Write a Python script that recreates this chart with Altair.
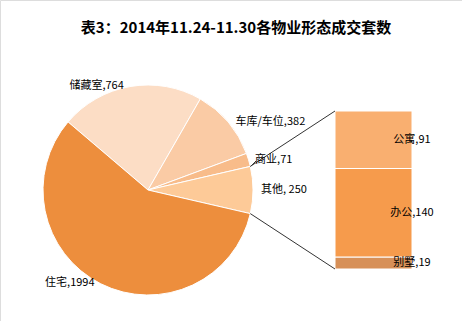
import math
import altair as alt
import pandas as pd

# ---- data ----
pie_cats = ["储藏室", "车库/车位", "商业", "其他", "住宅"]
pie_vals = [764, 382, 71, 250, 1994]
pie_labels = ["储藏室,764", "车库/车位,382", "商业,71", "其他, 250", "住宅,1994"]
pie_colors = ["#FCDDC5", "#FACBA5", "#F8BC8A", "#FDCA98", "#ED8E3D"]

bar_cats = ["别墅", "办公", "公寓"]
bar_vals = [19, 140, 91]
bar_labels = ["别墅,19", "办公,140", "公寓,91"]
bar_colors = ["#D79058", "#F69B4C", "#F9AF70"]

title = "表3：2014年11.24-11.30各物业形态成交套数"

# ---- layout / style ----
W, H = 462, 321
CX, CY, R = 148, 190, 105
LR = 125
label_dx = [-30, 27, 6, 11, -22]
label_dy = [19, 13, 6, 0, -19]
BX0, BX1, BTOP, BBOT = 335, 412, 111, 269
FONT = "Noto Sans CJK SC"

total = sum(pie_vals)
other_i = pie_cats.index("其他")
before_other = sum(pie_vals[:other_i])
start = math.pi / 2 - (before_other + pie_vals[other_i] / 2) / total * 2 * math.pi
a_top = start + before_other / total * 2 * math.pi
a_bot = start + (before_other + pie_vals[other_i]) / total * 2 * math.pi
i_sy = pie_cats.index("商业")
a_sy = start + (sum(pie_vals[:i_sy]) + pie_vals[i_sy] / 2) / total * 2 * math.pi

pie_df = pd.DataFrame({
    "cat": pie_cats, "value": pie_vals, "label": pie_labels,
    "ord": list(range(len(pie_cats))), "ndx": label_dx, "ndy": label_dy,
})
bar_df = pd.DataFrame({
    "bcat": bar_cats, "bvalue": bar_vals, "blabel": bar_labels,
    "bord": list(range(len(bar_cats))),
})
# connector lines (derived from the pie geometry and bar box)
conn_df = pd.DataFrame({
    "x1": [CX + R * math.sin(a_top), CX + R * math.sin(a_bot), CX + (R - 2) * math.sin(a_sy) + 4],
    "y1": [CY - R * math.cos(a_top), CY - R * math.cos(a_bot), CY - (R - 2) * math.cos(a_sy) + 6],
    "x2": [BX0, BX0, 256],
    "y2": [BTOP, BBOT, 161],
})

pie_color = alt.Color("cat:N", scale=alt.Scale(domain=pie_cats, range=pie_colors), legend=None)

pie = alt.Chart(pie_df).mark_arc(outerRadius=R, stroke="white", strokeWidth=1).encode(
    theta=alt.Theta("value:Q", stack=True,
                    scale=alt.Scale(range=[start, start + 2 * math.pi])),
    color=pie_color,
    order=alt.Order("ord:Q"),
    x=alt.value(CX), y=alt.value(CY),
)

pie_text = alt.Chart(pie_df).transform_window(
    cum="sum(value)", sort=[alt.SortField("ord")], frame=[None, 0]
).transform_calculate(
    mid=f"{start} + (datum.cum - datum.value / 2) / {total} * 2 * PI",
).transform_calculate(
    px=f"{CX} + {LR} * sin(datum.mid) + datum.ndx",
    py=f"{CY} - {LR} * cos(datum.mid) + datum.ndy",
).mark_text(font=FONT, fontSize=11, color="#000000", align="center", baseline="middle").encode(
    x=alt.X("px:Q", scale=None, axis=None),
    y=alt.Y("py:Q", scale=None, axis=None),
    text="label:N",
)

bar_y_scale = alt.Scale(domain=[0, sum(bar_vals)], range=[BBOT, BTOP])
bar_base = alt.Chart(bar_df).transform_window(
    cum="sum(bvalue)", sort=[alt.SortField("bord")], frame=[None, 0]
).transform_calculate(
    lo="datum.cum - datum.bvalue",
    mid="datum.cum - datum.bvalue / 2",
)

bar = bar_base.mark_rect(stroke="white", strokeWidth=1).encode(
    x=alt.value(BX0), x2=alt.value(BX1),
    y=alt.Y("lo:Q", scale=bar_y_scale, axis=None),
    y2="cum:Q",
    color=alt.Color("bcat:N", scale=alt.Scale(domain=bar_cats, range=bar_colors), legend=None),
)

bar_text = bar_base.mark_text(font=FONT, fontSize=11, color="#000000", align="center",
                              baseline="middle").encode(
    x=alt.value(BX1),
    y=alt.Y("mid:Q", scale=bar_y_scale, axis=None),
    text="blabel:N",
)

connectors = alt.Chart(conn_df).mark_rule(color="#333333", strokeWidth=1).encode(
    x=alt.X("x1:Q", scale=None, axis=None), y=alt.Y("y1:Q", scale=None, axis=None),
    x2="x2:Q", y2="y2:Q",
)

chart = alt.layer(pie, bar, connectors, pie_text, bar_text).resolve_scale(
    x="independent", y="independent", color="independent"
).properties(
    width=W, height=H, padding=0, autosize=alt.AutoSizeParams(type="none"),
    title=alt.TitleParams(title, font=FONT, fontSize=15, fontWeight="bold", color="#000000",
                          anchor="middle", offset=-36, dx=5),
).configure_view(stroke=None).configure(background="white")

chart.save("out.html", embed_options={"renderer": "svg", "actions": False})
